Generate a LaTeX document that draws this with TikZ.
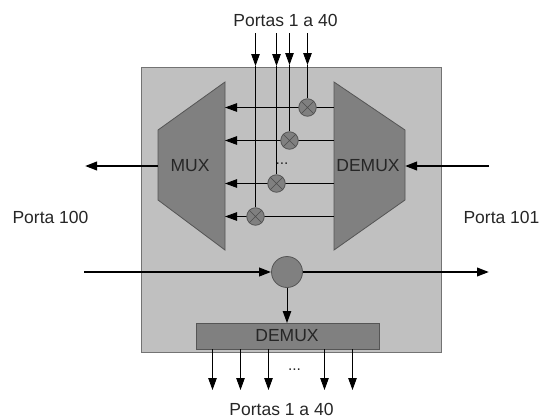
\documentclass[tikz,border=0pt]{standalone}
\usepackage{fontspec}
\setmainfont{Liberation Sans}
\usetikzlibrary{arrows.meta}
\definecolor{panel}{HTML}{C0C0C0}
\definecolor{block}{HTML}{808080}
\definecolor{edge}{HTML}{555555}
\tikzset{
  lab/.style={font=\fontsize{17.5}{19}\selectfont,text=black!85,inner sep=0pt},
  dotsl/.style={font=\fontsize{15.5}{17}\selectfont,text=black!85,inner sep=0pt,anchor=base},
  blk/.style={fill=block,draw=edge,line width=.8pt},
  thin tip/.style={-{Triangle[length=12pt,width=8.5pt]},line width=.9pt,draw=black},
  wire/.style={line width=.9pt,draw=black},
  thick tip/.style={-{Triangle[length=12pt,width=8.5pt]},line width=2.2pt,draw=black},
  cross/.style={circle,minimum size=17.5pt,inner sep=0pt,fill=block,draw=edge,line width=.8pt},
}
\begin{document}
\begin{tikzpicture}[x=1pt,y=-1pt]
\useasboundingbox (0,0) rectangle (539,418);
\node[draw=black!55,fill=panel,line width=.8pt,minimum width=300pt,minimum height=284.5pt,inner sep=0pt,anchor=north west] (panel) at (141,67) {};
% MUX / DEMUX
\draw[blk] (158,130) -- (225,82) -- (225,250) -- (158,200) -- cycle;
\draw[blk] (334,82) -- (405,130) -- (405,200) -- (334,250) -- cycle;
\coordinate (muxL) at (158,166);
\coordinate (demR) at (405,166);
\node[lab] (mux) at (190,166) {MUX};
\node[lab] (dem) at (368,166) {DEMUX};
% row anchors
\coordinate (m1) at (225,107.5); \coordinate (d1) at (334,107.5);
\coordinate (m2) at (225,140.5); \coordinate (d2) at (334,140.5);
\coordinate (m3) at (225,183.5); \coordinate (d3) at (334,183.5);
\coordinate (m4) at (225,216.5); \coordinate (d4) at (334,216.5);
\draw[thin tip] (d1) -- (m1);
\draw[thin tip] (d2) -- (m2);
\draw[thin tip] (d3) -- (m3);
\draw[thin tip] (d4) -- (m4);
% top verticals
\coordinate (t1) at (307.5,33); \coordinate (a1) at (307.5,65);
\coordinate (t2) at (289.5,33); \coordinate (a2) at (289.5,65);
\coordinate (t3) at (276.5,33); \coordinate (a3) at (276.5,66);
\coordinate (t4) at (255.5,33); \coordinate (a4) at (255.5,66);
\foreach \n/\cx/\cy in {c1/307.5/107.5,c2/289.5/140.5,c3/276.5/183.5,c4/255.5/216.5}{
  \node[cross] (\n) at (\cx,\cy) {};
  \draw[line width=.6pt,draw=black!70] (\n.north west) -- (\n.south east) (\n.north east) -- (\n.south west);
}
\draw[thin tip] (t1) -- (a1); \draw[wire] (a1) -- (c1);
\draw[thin tip] (t2) -- (a2); \draw[wire] (a2) -- (c2);
\draw[thin tip] (t3) -- (a3); \draw[wire] (a3) -- (c3);
\draw[thin tip] (t4) -- (a4); \draw[wire] (a4) -- (c4);
\node[dotsl] (dots1) at (282,164) {...};
% thick ports
\coordinate (pl) at (85,166); \coordinate (pr) at (489,166);
\draw[thick tip] (muxL) -- (pl);
\draw[thick tip] (pr) -- (demR);
\node[circle,minimum size=31pt,inner sep=0pt,fill=block,draw=edge,line width=.8pt] (split) at (287,272) {};
\coordinate (in) at (84,272); \coordinate (out) at (489,272);
\draw[thick tip] (in) -- (split);
\draw[thick tip] (split) -- (out);
% bottom demux
\node[blk,minimum width=183pt,minimum height=26pt,inner sep=0pt,anchor=north west] (box) at (196,323) {};
\node[lab] (boxt) at (287,336) {DEMUX};
\draw[thin tip] (split) -- (287,323);
\foreach \x in {212.5,240.5,268.5,324.5,352.5}{
  \coordinate (s) at (\x,349); \coordinate (e) at (\x,390);
  \draw[thin tip] (s) -- (e);
}
\node[dotsl] (dots2) at (294.5,370.5) {...};
% labels
\node[lab] (top) at (285.5,20) {Portas 1 a 40};
\node[lab] (bot) at (281.5,409) {Portas 1 a 40};
\node[lab] (pl100) at (50.5,217) {Porta 100};
\node[lab] (pl101) at (501.5,217) {Porta 101};
\end{tikzpicture}
\end{document}
